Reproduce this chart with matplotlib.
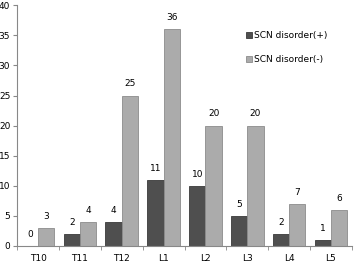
import numpy as np
import matplotlib.pyplot as plt

categories = ["T10", "T11", "T12", "L1", "L2", "L3", "L4", "L5"]
scn_pos = [0, 2, 4, 11, 10, 5, 2, 1]
scn_neg = [3, 4, 25, 36, 20, 20, 7, 6]

fig = plt.figure(figsize=(3.58, 2.63), dpi=100)
ax = fig.add_axes([0.048, 0.065, 0.935, 0.915])

x = np.arange(len(categories))
w = 0.39
dark = "#4f4f4f"
light = "#ababab"
b1 = ax.bar(x - w / 2, scn_pos, w, color=dark, edgecolor="#3a3a3a", linewidth=0.6, label="SCN disorder(+)")
b2 = ax.bar(x + w / 2, scn_neg, w, color=light, edgecolor="#8c8c8c", linewidth=0.6, label="SCN disorder(-)")

for bars, vals in ((b1, scn_pos), (b2, scn_neg)):
    for r, v in zip(bars, vals):
        ax.text(r.get_x() + r.get_width() / 2, v + 1.2, str(v), ha="center", va="bottom", fontsize=6.5)

ax.set_xlim(-0.5, len(categories) - 0.5)
ax.set_ylim(0, 40)
ax.set_yticks(range(0, 41, 5))
ax.set_xticks(x)
ax.set_xticklabels(categories)
ax.set_xticks(np.arange(-0.5, len(categories), 1), minor=True)
ax.tick_params(axis="x", which="major", length=0, labelsize=6.5, pad=6)
ax.tick_params(axis="x", which="minor", length=3, color="#888888")
ax.tick_params(axis="y", length=3, color="#888888", labelsize=6.5, pad=2)
for s in ("top", "right"):
    ax.spines[s].set_visible(False)
for s in ("left", "bottom"):
    ax.spines[s].set_color("#888888")
    ax.spines[s].set_linewidth(0.8)

ax.legend(loc="upper left", bbox_to_anchor=(0.66, 0.925), frameon=False, fontsize=6.5,
          handlelength=0.6, handleheight=0.6, handletextpad=0.3, labelspacing=1.6)

fig.savefig("out.png", dpi=100)
